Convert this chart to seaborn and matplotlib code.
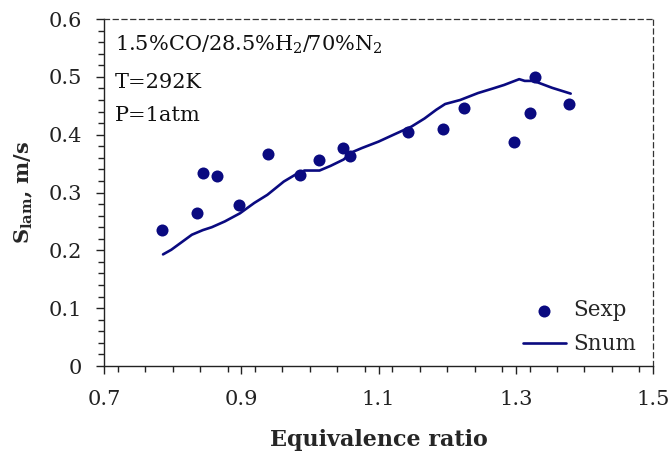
import matplotlib
matplotlib.use("Agg")
import matplotlib.pyplot as plt
from matplotlib.ticker import MultipleLocator
import seaborn as sns
import pandas as pd

# Experimental data (Sexp)
phi_exp = [0.785, 0.835, 0.844, 0.864, 0.897, 0.939, 0.985, 1.013, 1.048, 1.059,
           1.143, 1.194, 1.224, 1.298, 1.320, 1.328, 1.378]
s_exp = [0.235, 0.265, 0.333, 0.328, 0.279, 0.366, 0.331, 0.356, 0.377, 0.363,
         0.404, 0.410, 0.446, 0.388, 0.437, 0.500, 0.453]

# Numerical data (Snum)
phi_num = [0.786, 0.798, 0.828, 0.844, 0.857, 0.876, 0.898, 0.919, 0.938, 0.962,
           0.979, 0.992, 1.014, 1.030, 1.049, 1.062, 1.076, 1.100, 1.122, 1.148,
           1.167, 1.184, 1.197, 1.219, 1.232, 1.245, 1.267, 1.283, 1.305, 1.313,
           1.326, 1.353, 1.380]
s_num = [0.193, 0.201, 0.227, 0.235, 0.240, 0.250, 0.264, 0.282, 0.296, 0.319,
         0.331, 0.338, 0.338, 0.346, 0.357, 0.370, 0.377, 0.388, 0.400, 0.414,
         0.428, 0.443, 0.453, 0.460, 0.466, 0.472, 0.480, 0.486, 0.496, 0.493,
         0.493, 0.481, 0.471]

x_ticks = [0.7, 0.9, 1.1, 1.3, 1.5]
x_ticklabels = ["0.7", "0.9", "1.1", "1.3", "1.5"]
y_ticks = [0, 0.1, 0.2, 0.3, 0.4, 0.5, 0.6]
y_ticklabels = ["0", "0.1", "0.2", "0.3", "0.4", "0.5", "0.6"]

sns.set_style("ticks")
plt.rcParams['font.family'] = ['DejaVu Serif']
plt.rcParams['mathtext.fontset'] = 'dejavuserif'

color = "#0a0a80"
df_exp = pd.DataFrame({"phi": phi_exp, "s": s_exp})
df_num = pd.DataFrame({"phi": phi_num, "s": s_num})

fig = plt.figure(figsize=(6.72, 4.55), dpi=100)
ax = fig.add_axes([0.1548, 0.1956, 0.817, 0.7626])

sns.scatterplot(data=df_exp, x="phi", y="s", ax=ax, color=color, s=75,
                edgecolor=color, linewidth=0, label="Sexp", zorder=3)
sns.lineplot(data=df_num, x="phi", y="s", ax=ax, color=color, linewidth=1.9,
             sort=False, estimator=None, label="Snum")

ax.set_xlim(0.7, 1.5)
ax.set_ylim(0, 0.6)
ax.xaxis.set_minor_locator(MultipleLocator(0.04))
ax.yaxis.set_minor_locator(MultipleLocator(0.02))
ax.set_xticks(x_ticks)
ax.set_xticklabels(x_ticklabels)
ax.set_yticks(y_ticks)
ax.set_yticklabels(y_ticklabels)
ax.tick_params(which="major", direction="out", length=5.5, width=1, labelsize=15,
               colors="#222222")
ax.tick_params(which="minor", direction="out", length=4, width=1, colors="#222222")
ax.tick_params(axis="x", which="major", pad=12)
ax.tick_params(axis="y", which="major", pad=10)

for side in ["left", "bottom"]:
    ax.spines[side].set_color("#222222")
    ax.spines[side].set_linewidth(1.0)
for side in ["top", "right"]:
    ax.spines[side].set_visible(True)
    ax.spines[side].set_linestyle((0, (4, 3)))
    ax.spines[side].set_color("#333333")
    ax.spines[side].set_linewidth(0.9)

ax.set_xlabel("Equivalence ratio", fontsize=16, fontweight="bold", labelpad=14)
ax.set_ylabel(r"$\mathbf{S_{lam}}$, m/s", fontsize=15, fontweight="bold", labelpad=10)

for ytxt, txt in [(0.925, r"1.5%CO/28.5%H$_2$/70%N$_2$"),
                  (0.818, "T=292K"),
                  (0.723, "P=1atm")]:
    ax.text(0.02, ytxt, txt, transform=ax.transAxes, fontsize=15,
            va="center", ha="left", color="#111111")

leg = ax.legend(loc="lower right", bbox_to_anchor=(0.989, 0.0), frameon=False,
                fontsize=15.5, handlelength=2.0, handletextpad=0.35,
                borderaxespad=0.2, labelspacing=0.55, borderpad=0.3)

fig.savefig("out.png", dpi=100)
